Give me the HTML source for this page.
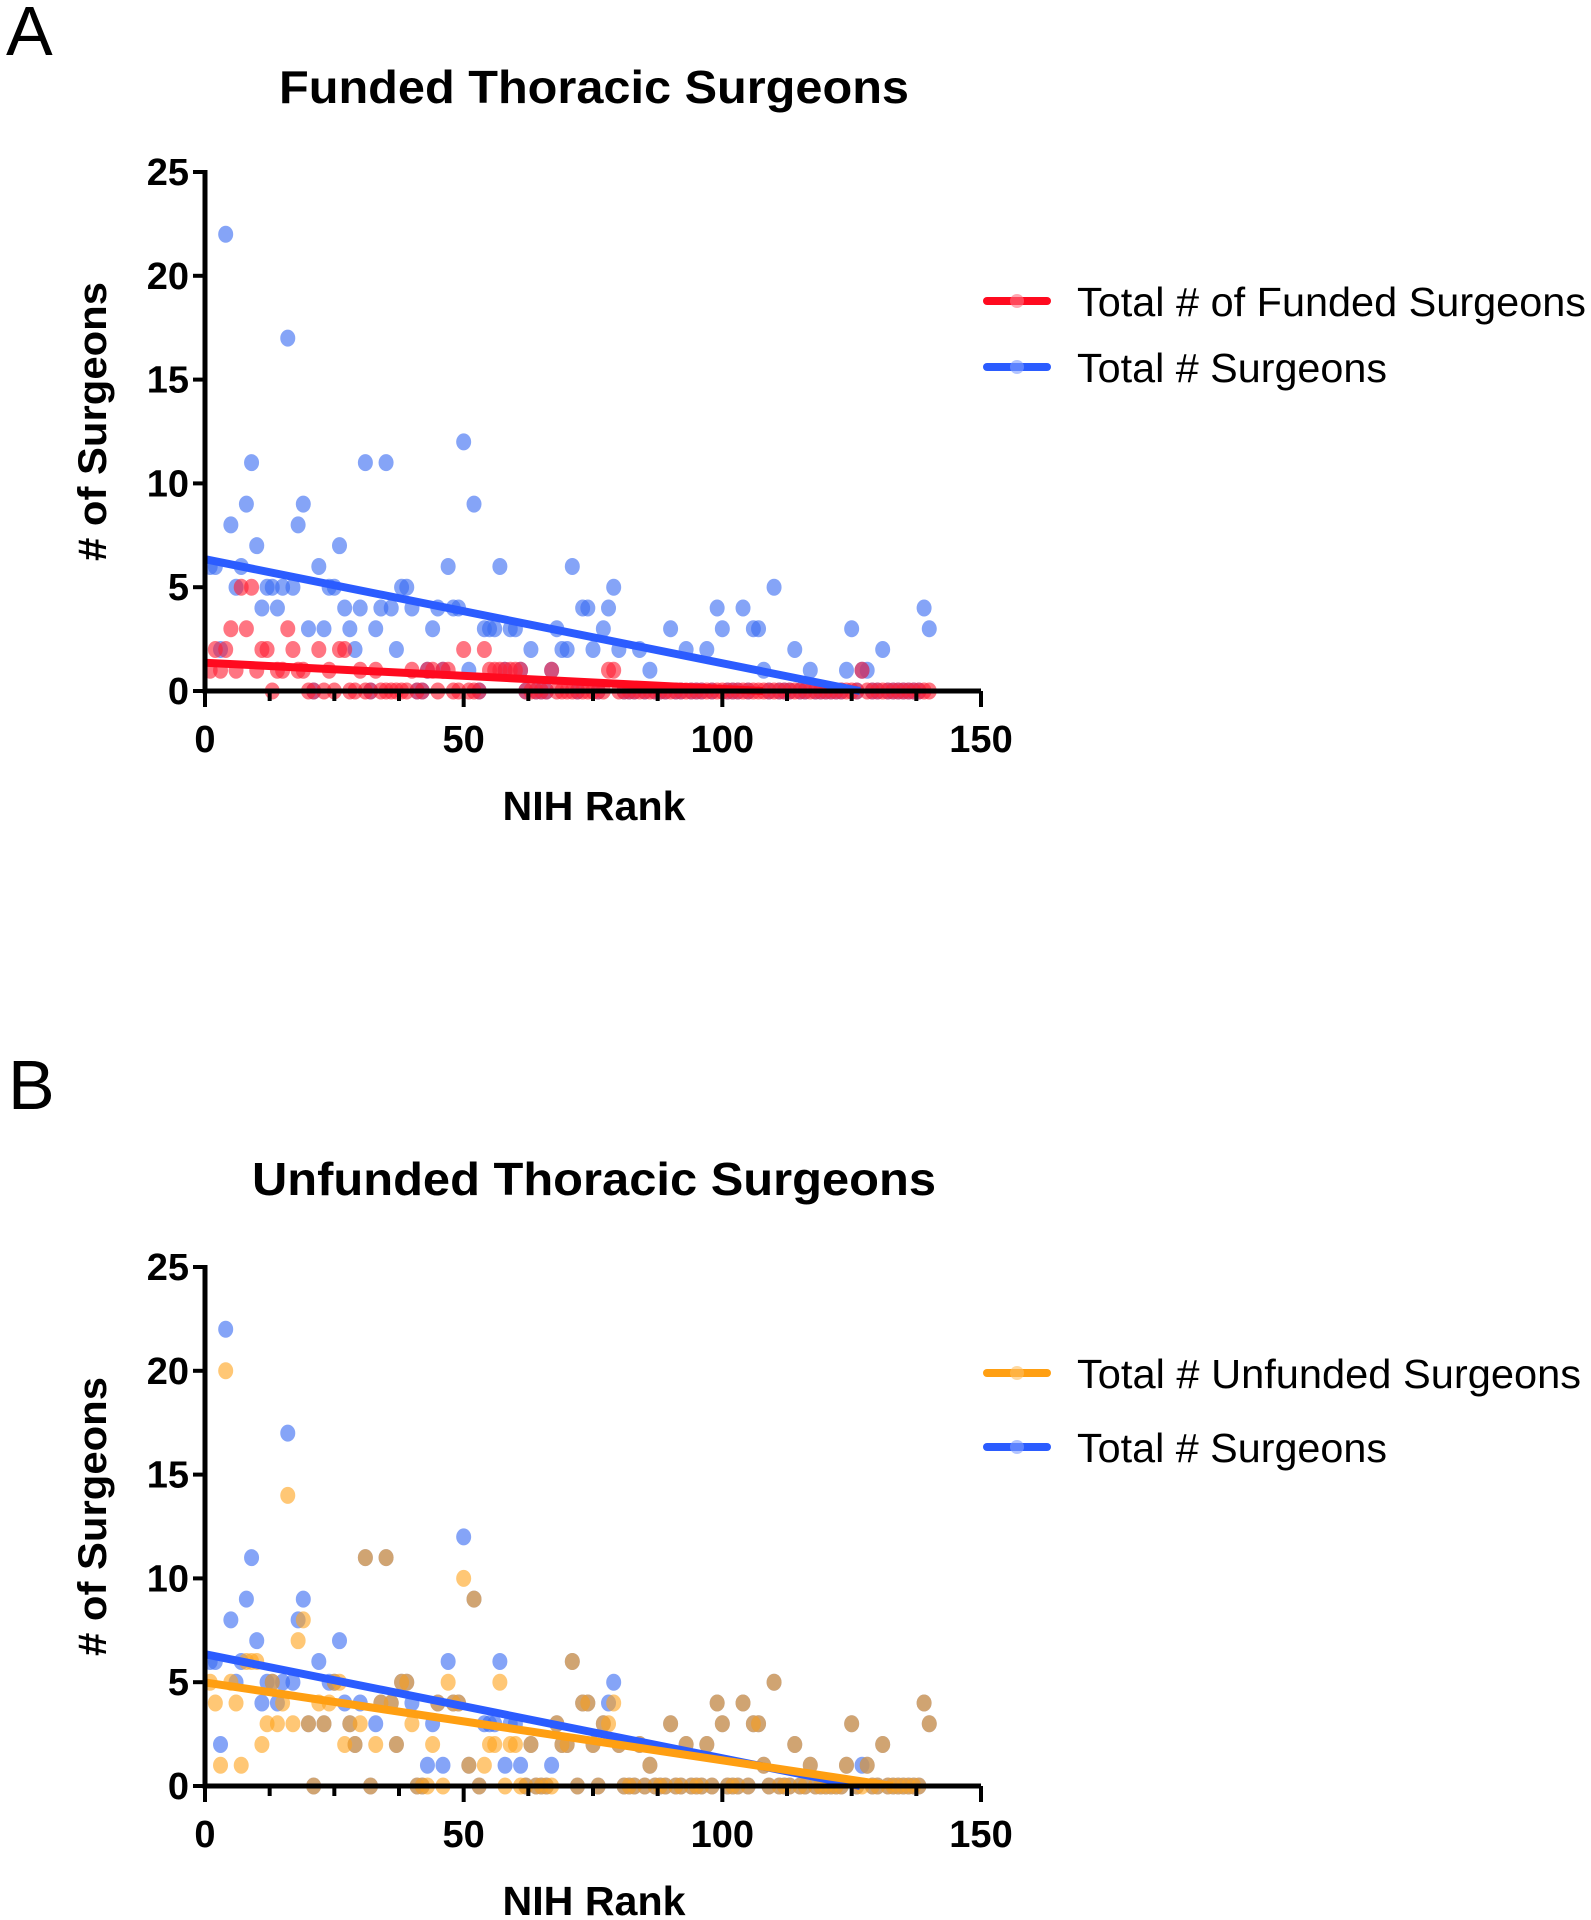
<!DOCTYPE html>
<html><head><meta charset="utf-8"><style>
html,body{margin:0;padding:0;background:#fff;}
svg{display:block;font-family:"Liberation Sans",Arial,sans-serif;}
</style></head><body>
<svg id="fig" width="1591" height="1920" viewBox="0 0 1591 1920" xmlns="http://www.w3.org/2000/svg">
<text x="6" y="55" font-size="70">A</text>
<text x="8" y="1109" font-size="70">B</text>
<g id="panelA"></g>
<g id="panelB"></g>
</svg>
<script>
// NIH rank 1..140
const totalSurgeons = [6,6,2,22,8,5,6,9,11,7,4,5,5,4,5,17,5,8,9,3,0,6,3,5,5,7,4,3,2,4,11,0,3,4,11,4,2,5,5,4,0,0,1,3,4,1,6,4,4,12,1,9,0,3,3,3,6,1,3,3,1,0,2,0,0,0,1,3,2,2,6,0,4,4,2,0,3,4,5,2,0,0,0,2,0,1,0,0,0,3,0,0,2,0,0,0,2,0,4,3,0,0,0,4,0,3,3,1,0,5,0,0,0,2,0,0,1,0,0,0,0,0,0,1,3,0,1,1,0,0,2,0,0,0,0,0,0,0,4,3];
const fundedSurgeons = [1,2,1,2,3,1,5,3,5,1,2,2,0,1,1,3,2,1,1,0,0,2,0,1,0,2,2,0,0,1,0,0,1,0,0,0,0,0,0,1,0,0,1,1,0,1,1,0,0,2,0,0,0,2,1,1,1,1,1,1,1,0,0,0,0,0,1,0,0,0,0,0,0,0,0,0,0,1,1,0,0,0,0,0,0,0,0,0,0,0,0,0,0,0,0,0,0,0,0,0,0,0,0,0,0,0,0,0,0,0,0,0,0,0,0,0,0,0,0,0,0,0,0,0,0,0,1,0,0,0,0,0,0,0,0,0,0,0,0,0];
const unfundedSurgeons = [5,4,1,20,5,4,1,6,6,6,2,3,5,3,4,14,3,7,8,3,0,4,3,4,5,5,2,3,2,3,11,0,2,4,11,4,2,5,5,3,0,0,0,2,4,0,5,4,4,10,1,9,0,1,2,2,5,0,2,2,0,0,2,0,0,0,0,3,2,2,6,0,4,4,2,0,3,3,4,2,0,0,0,2,0,1,0,0,0,3,0,0,2,0,0,0,2,0,4,3,0,0,0,4,0,3,3,1,0,5,0,0,0,2,0,0,1,0,0,0,0,0,0,1,3,0,0,1,0,0,2,0,0,0,0,0,0,0,4,3];
const xTicks = [0,50,100,150];
const yTicks = [0,5,10,15,20,25];
const titles = ["Funded Thoracic Surgeons","Unfunded Thoracic Surgeons"];

const NS="http://www.w3.org/2000/svg";
function mk(tag,parent,attrs){const e=document.createElementNS(NS,tag);for(const k in attrs)e.setAttribute(k,attrs[k]);parent.appendChild(e);return e;}
function fit(ys){const n=ys.length;let sx=0,sy=0,sxx=0,sxy=0;ys.forEach((y,i)=>{const x=i+1;sx+=x;sy+=y;sxx+=x*x;sxy+=x*y;});const b=(n*sxy-sx*sy)/(n*sxx-sx*sx);return {b:b,a:(sy-b*sx)/n};}

function drawPanel(g,y0,opt){
  const X0=205,X1=981,Y0=y0,Y25=y0-519;
  const sx=v=>X0+(X1-X0)*v/150, sy=v=>Y0+(Y25-Y0)*v/25;
  const t=mk('text',g,{x:594,y:opt.titleY,'font-size':46,'font-weight':'bold','text-anchor':'middle',textLength:opt.titleW,lengthAdjust:'spacingAndGlyphs'});
  t.textContent=opt.title;
  
  
  const yl=mk('text',g,{x:0,y:0,'font-size':40,'font-weight':'bold','text-anchor':'middle',transform:`translate(106,${(Y0+Y25)/2-10}) rotate(-90)`,textLength:279,lengthAdjust:'spacingAndGlyphs'});
  yl.textContent='# of Surgeons';
  
  
  const xl=mk('text',g,{x:594,y:Y0+129,'font-size':41,'font-weight':'bold','text-anchor':'middle',textLength:183,lengthAdjust:'spacingAndGlyphs'});
  xl.textContent='NIH Rank';
  
  
  // scatter
  opt.series.forEach(s=>{
    s.values.forEach((v,i)=>{
      const c=mk('ellipse',g,{cx:sx(i+1),cy:sy(v),rx:7.5,ry:8.5,fill:s.pt,'fill-opacity':0.62});
      
      
    });
  });
  // regression lines
  opt.series.forEach(s=>{
    const f=fit(s.values);let xe=150;if(f.b<0){xe=Math.min(150,-f.a/f.b);}
    const ln=mk('line',g,{x1:sx(0),y1:sy(f.a),x2:sx(xe),y2:sy(f.a+f.b*xe),stroke:s.line,'stroke-width':8,'stroke-linecap':'butt'});
    
    
  });
  // axes
  const ax=mk('path',g,{d:`M${X0} ${Y25-2} V${Y0} H${X1}`,stroke:'#000','stroke-width':5,fill:'none'});
  
  
  yTicks.forEach(v=>{
    mk('line',g,{x1:X0-12,x2:X0,y1:sy(v),y2:sy(v),stroke:'#000','stroke-width':4});
    const tl=mk('text',g,{x:X0-16,y:sy(v)+13,'font-size':38,'font-weight':'bold','text-anchor':'end'});
    tl.textContent=v;
    
    
  });
  for(let v=0;v<=150;v+=12.5){
    const major=xTicks.includes(v);
    mk('line',g,{x1:sx(v),x2:sx(v),y1:Y0,y2:Y0+(major?16:10),stroke:'#000','stroke-width':4});
  }
  xTicks.forEach(v=>{
    const tl=mk('text',g,{x:sx(v),y:Y0+61,'font-size':38,'font-weight':'bold','text-anchor':'middle'});
    tl.textContent=v;
    
    
  });
  // legend
  opt.legend.forEach((l,k)=>{
    const ly=opt.legY[k];
    mk('line',g,{x1:987,x2:1047,y1:ly,y2:ly,stroke:l.line,'stroke-width':8,'stroke-linecap':'round'});
    mk('circle',g,{cx:1017,cy:ly,r:7,fill:l.pt,'fill-opacity':0.6});
    const lt=mk('text',g,{x:1077,y:ly+15,'font-size':41,textLength:l.w,lengthAdjust:'spacingAndGlyphs'});
    lt.textContent=l.text;
    
    
  });
}
const RED='#ff0a1f',BLUE='#2b5cff',ORANGE='#ff9f12';
drawPanel(document.getElementById('panelA'),691,{
  title:titles[0],titleY:103,titleW:630,
  series:[{name:'total-surgeons',values:totalSurgeons,pt:'#3a6cf2',line:BLUE},{name:'funded-surgeons',values:fundedSurgeons,pt:'#ff2035',line:RED}],
  legend:[{text:'Total # of Funded Surgeons',line:RED,pt:'#ff7080',w:509},{text:'Total # Surgeons',line:BLUE,pt:'#7f9cff',w:310}],
  legY:[301,367]
});
drawPanel(document.getElementById('panelB'),1786,{
  title:titles[1],titleY:1195,titleW:684,
  series:[{name:'total-surgeons',values:totalSurgeons,pt:'#3a6cf2',line:BLUE},{name:'unfunded-surgeons',values:unfundedSurgeons,pt:'#ffa520',line:ORANGE}],
  legend:[{text:'Total # Unfunded Surgeons',line:ORANGE,pt:'#ffc060',w:504},{text:'Total # Surgeons',line:BLUE,pt:'#7f9cff',w:310}],
  legY:[1373,1447]
});
</script>
</body></html>
